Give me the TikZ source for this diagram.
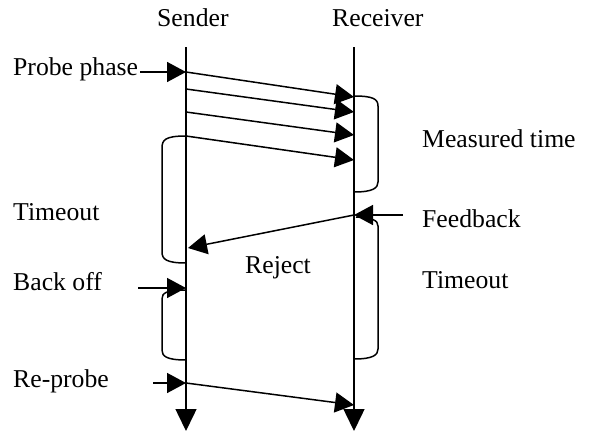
\documentclass[tikz,border=0pt]{standalone}
\usepackage{fontspec}
\setmainfont{Liberation Serif}
\usetikzlibrary{arrows.meta}
\begin{document}
\begin{tikzpicture}[x=1pt,y=-1pt,
  lbl/.style={inner sep=0pt,anchor=base west,font=\fontsize{25.7}{30}\selectfont},
  wire/.style={line width=1.5pt},
  msg/.style={wire,-{Triangle[length=19pt,width=20pt]}},
  life/.style={wire,-{Triangle[length=22pt,width=21pt]}}]
\useasboundingbox (0,0) rectangle (592,431);

% headings
\node[lbl] (snd) at (157,26) {Sender};
\node[lbl] (rcv) at (332,26) {Receiver};

% time lines
\coordinate (s0) at (186,47);  \coordinate (s1) at (186,431);
\coordinate (r0) at (354,47);  \coordinate (r1) at (354,431);
\draw[life] (s0) -- (s1);
\draw[life] (r0) -- (r1);

% labels
\node[lbl] (probe) at (13,75) {Probe phase};
\node[lbl] (meas) at (422,147) {Measured time};
\node[lbl] (tol) at (13,220) {Timeout};
\node[lbl] (fb) at (422,227) {Feedback};
\node[lbl] (rej) at (245,273) {Reject};
\node[lbl] (tor) at (422,288) {Timeout};
\node[lbl] (bo) at (13,290) {Back off};
\node[lbl] (rp) at (13,387) {Re-probe};

% event points on the time lines
\coordinate (p1) at (186,72);  \coordinate (q1) at (354,97);
\coordinate (p2) at (186,89);  \coordinate (q2) at (354,112);
\coordinate (p3) at (186,112); \coordinate (q3) at (354,135);
\coordinate (p4) at (186,136); \coordinate (q4) at (354,160);
\coordinate (fbp) at (354,215); \coordinate (rjp) at (188,248);
\coordinate (bop) at (186,288);
\coordinate (rpp) at (186,383); \coordinate (rpq) at (354,405);

% short pointers
\coordinate (probeIn) at (140,72);
\coordinate (boIn) at (138,288);
\coordinate (rpIn) at (153,383);
\coordinate (fbIn) at (403,215);
\draw[msg] (probeIn) -- (p1);
\draw[msg] (boIn) -- (bop);
\draw[msg] (rpIn) -- (rpp);
\draw[msg] (fbIn) -- (fbp);

% probe packets
\draw[msg] (p1) -- (q1);
\draw[msg] (p2) -- (q2);
\draw[msg] (p3) -- (q3);
\draw[msg] (p4) -- (q4);

% feedback and re-probe
\draw[msg] (fbp) -- (rjp);
\draw[msg] (rpp) -- (rpq);

% interval brackets
\draw[wire] (186,136) .. controls (165,136) and (162,140) .. (162,148)
  -- (162,252) .. controls (162,259) and (166,263) .. (186,263);
\draw[wire] (186,290) .. controls (166,290) and (162,293) .. (162,299)
  -- (162,350) .. controls (162,356) and (166,360) .. (186,360);
\draw[wire] (354,96) .. controls (373,96) and (378,99) .. (378,106)
  -- (378,182) .. controls (378,188) and (373,192) .. (354,192);
\draw[wire] (356,217) .. controls (372,218) and (378,220) .. (378,226)
  -- (378,349) .. controls (378,355) and (373,359) .. (354,359);
\end{tikzpicture}
\end{document}
